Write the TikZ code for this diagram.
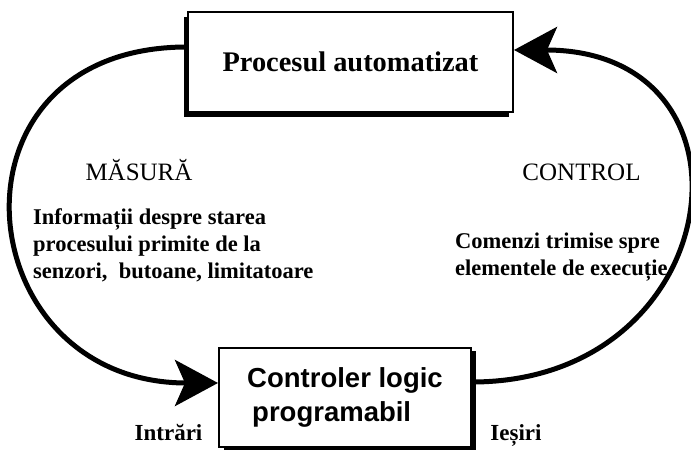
\documentclass[tikz,border=0pt]{standalone}
\usepackage{fontspec}
\setmainfont{Liberation Serif}
\newfontfamily\plcfont{Liberation Sans}
\usetikzlibrary{arrows.meta,shadows}
\tikzset{
  procbox/.style={draw,line width=2pt,fill=white,minimum width=325pt,minimum height=100pt,
    drop shadow={shadow xshift=-4pt,shadow yshift=-5pt,fill=black,opacity=1}},
  plcbox/.style={draw,line width=2pt,fill=white,minimum width=252pt,minimum height=99pt,
    drop shadow={shadow xshift=5pt,shadow yshift=-3pt,fill=black,opacity=1}},
  loopline/.style={line width=5pt,-{Stealth[length=43pt,width=46pt,inset=10pt]}},
  boldtxt/.style={font=\bfseries\fontsize{22.5}{27}\selectfont,align=left,inner sep=0pt},
  headtxt/.style={font=\fontsize{25}{30}\selectfont,inner sep=0pt}
}
\begin{document}
\begin{tikzpicture}[x=1pt,y=1pt]
\useasboundingbox (0,0) rectangle (691,452);
% boxes
\node[procbox,font=\bfseries\fontsize{28.4}{34}\selectfont] (proc) at (350.5,390){Procesul automatizat};
\node[plcbox,font=\plcfont\bfseries\fontsize{27.5}{34}\selectfont,align=left] (plc) at (345,54.5){Controler logic\\\hspace*{5pt}programabil};
% loop
\draw[loopline] ([yshift=15pt]proc.west) to[out=180,in=180,looseness=1.91] ([yshift=14.5pt]plc.west);
\draw[loopline] ([yshift=15.5pt]plc.east) to[out=0,in=0,looseness=1.96] ([yshift=12pt]proc.east);
% labels
\node[headtxt] (masura) at (139,282){MĂSURĂ};
\node[headtxt] (control) at (581.5,280){CONTROL};
\node[boldtxt,anchor=west] (info) at (33,207){Informații despre starea\\procesului primite de la\\senzori,\ \ butoane, limitatoare};
\node[boldtxt,anchor=west] (comenzi) at (455,194.5){Comenzi trimise spre\\elementele de execuție};
\node[boldtxt,font=\bfseries\fontsize{23}{27}\selectfont] (intrari) at (168.5,19){Intrări};
\node[boldtxt,font=\bfseries\fontsize{23}{27}\selectfont] (iesiri) at (516,17){Ieșiri};
\end{tikzpicture}
\end{document}
